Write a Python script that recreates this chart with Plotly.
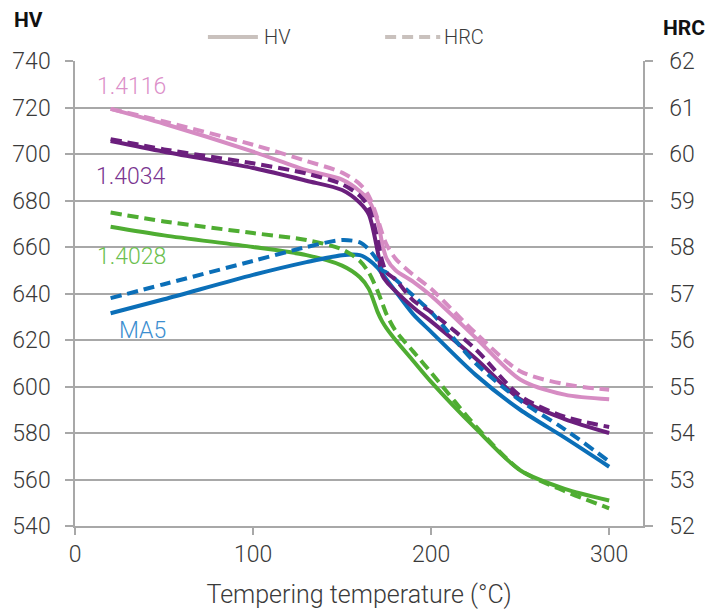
import plotly.graph_objects as go

# Tempering temperature (°C)
T = [20, 50, 100, 130, 150, 160, 165, 170, 172.5, 175, 180, 190, 200, 225, 250, 275, 300]

# HV (left axis)
hv_1_4116 = [719.4, 713, 701, 693, 689, 684, 680, 671, 661.6, 655, 650, 645, 639, 621, 603, 596.5, 594.5]
hv_1_4034 = [705.6, 701, 694, 688.5, 684.5, 679, 674, 658, 648, 645, 641, 634, 628, 612, 594.5, 586, 580]
hv_1_4028 = [668.7, 665, 660, 656.5, 652, 647, 642, 632, 628, 625, 620, 611, 602, 582, 564, 556, 551]
hv_ma5 = [631.5, 637.5, 648, 653.5, 656.5, 656.5, 654.5, 651, 648.5, 646, 641, 631, 623.5, 605, 590, 578, 565.5]

# HRC (right axis)
hrc_1_4116 = [60.97, 60.7, 60.2, 59.85, 59.6, 59.35, 59.1, 58.6, 58.3, 58.05, 57.75, 57.4, 57.1, 56.15, 55.33, 55.05, 54.93]
hrc_1_4034 = [60.32, 60.1, 59.8, 59.58, 59.35, 59.1, 58.85, 58.15, 57.7, 57.45, 57.3, 56.85, 56.6, 55.8, 54.8, 54.35, 54.13]
hrc_1_4028 = [58.74, 58.55, 58.3, 58.15, 57.95, 57.7, 57.45, 57.05, 56.8, 56.55, 56.2, 55.75, 55.3, 54.15, 53.2, 52.75, 52.38]
hrc_ma5 = [56.9, 57.2, 57.7, 58.0, 58.15, 58.1, 57.95, 57.7, 57.5, 57.45, 57.3, 56.95, 56.6, 55.5, 54.7, 54.08, 53.39]

names = ["1.4116", "1.4034", "1.4028", "MA5"]
line_colors = ["#d68cc3", "#6b1f7d", "#4fad32", "#0b6fb8"]
label_colors = ["#dc8fc9", "#7a3590", "#6cbf50", "#3b8ed0"]
label_y = [729, 690.5, 656, 624.3]
hv_series = [hv_1_4116, hv_1_4034, hv_1_4028, hv_ma5]
hrc_series = [hrc_1_4116, hrc_1_4034, hrc_1_4028, hrc_ma5]

x_ticks = [0, 100, 200, 300]
hv_ticks = [540, 560, 580, 600, 620, 640, 660, 680, 700, 720, 740]
hrc_ticks = [52, 53, 54, 55, 56, 57, 58, 59, 60, 61, 62]
legend_names = ["HV", "HRC"]

FONT = "Roboto, sans-serif"
BOLD = "Roboto, sans-serif"
GRID = "#a8a8a8"
LEG = "#c9c1bd"
DASH = "11px,6px"
TXT = "#3a3a3a"

fig = go.Figure()

for i in [2, 3, 1, 0]:
    fig.add_trace(go.Scatter(x=T, y=hv_series[i], mode="lines", showlegend=False,
                             line=dict(color=line_colors[i], width=4, shape="spline", smoothing=0.8),
                             yaxis="y"))
    fig.add_trace(go.Scatter(x=T, y=hrc_series[i], mode="lines", showlegend=False,
                             line=dict(color=line_colors[i], width=4, dash=DASH, shape="spline", smoothing=0.8),
                             yaxis="y2"))

for i in range(4):
    fig.add_annotation(x=52, y=label_y[i], xref="x", yref="y", text=names[i],
                       showarrow=False, xanchor="right", yanchor="middle",
                       font=dict(family=FONT, size=23, color=label_colors[i], weight=300))

# manual legend (paper coordinates)
leg_y = 1.0516
fig.add_shape(type="line", xref="paper", yref="paper", x0=0.234, x1=0.322, y0=leg_y, y1=leg_y,
              line=dict(color=LEG, width=4))
fig.add_shape(type="line", xref="paper", yref="paper", x0=0.546, x1=0.643, y0=leg_y, y1=leg_y,
              line=dict(color=LEG, width=4, dash=DASH))
fig.add_annotation(xref="paper", yref="paper", x=0.329, y=leg_y, text=legend_names[0], showarrow=False,
                   xanchor="left", yanchor="middle", font=dict(family=FONT, size=20, color=TXT, weight=300))
fig.add_annotation(xref="paper", yref="paper", x=0.646, y=leg_y, text=legend_names[1], showarrow=False,
                   xanchor="left", yanchor="middle", font=dict(family=FONT, size=20, color=TXT, weight=300))

fig.add_annotation(xref="paper", yref="paper", x=-0.111, y=1.088, text="<b>HV</b>",
                   showarrow=False, xanchor="left", yanchor="middle",
                   font=dict(family=BOLD, size=21, color="#111111"))
fig.add_annotation(xref="paper", yref="paper", x=1.112, y=1.071, text="<b>HRC</b>",
                   showarrow=False, xanchor="right", yanchor="middle",
                   font=dict(family=BOLD, size=21, color="#111111"))

fig.update_layout(
    width=712, height=609,
    margin=dict(l=75, r=69, t=61, b=83),
    paper_bgcolor="white", plot_bgcolor="white",
    font=dict(family=FONT, size=23, color=TXT, weight=300),
    showlegend=False,
    xaxis=dict(range=[0, 319], tickvals=x_ticks, showgrid=False, zeroline=False, automargin=False,
               showline=True, linecolor=GRID, linewidth=1.5,
               ticks="outside", ticklen=7, tickcolor=GRID, tickwidth=1.5,
               title=dict(text="Tempering temperature (°C)", font=dict(size=25, color=TXT, weight=300), standoff=18)),
    yaxis=dict(range=[540, 740], tickvals=hv_ticks, showgrid=True, gridcolor=GRID, gridwidth=1.5,
               zeroline=False, showline=True, linecolor=GRID, linewidth=1.5, automargin=False,
               ticks="outside", ticklen=8, tickcolor=GRID, tickwidth=1.5, ticklabelstandoff=10),
    yaxis2=dict(range=[52, 62], tickvals=hrc_ticks, overlaying="y", side="right", showgrid=False,
                zeroline=False, showline=True, linecolor=GRID, linewidth=1.5, automargin=False,
                ticks="outside", ticklen=8, tickcolor=GRID, tickwidth=1.5, ticklabelstandoff=12),
)

fig.write_html("out.html")
